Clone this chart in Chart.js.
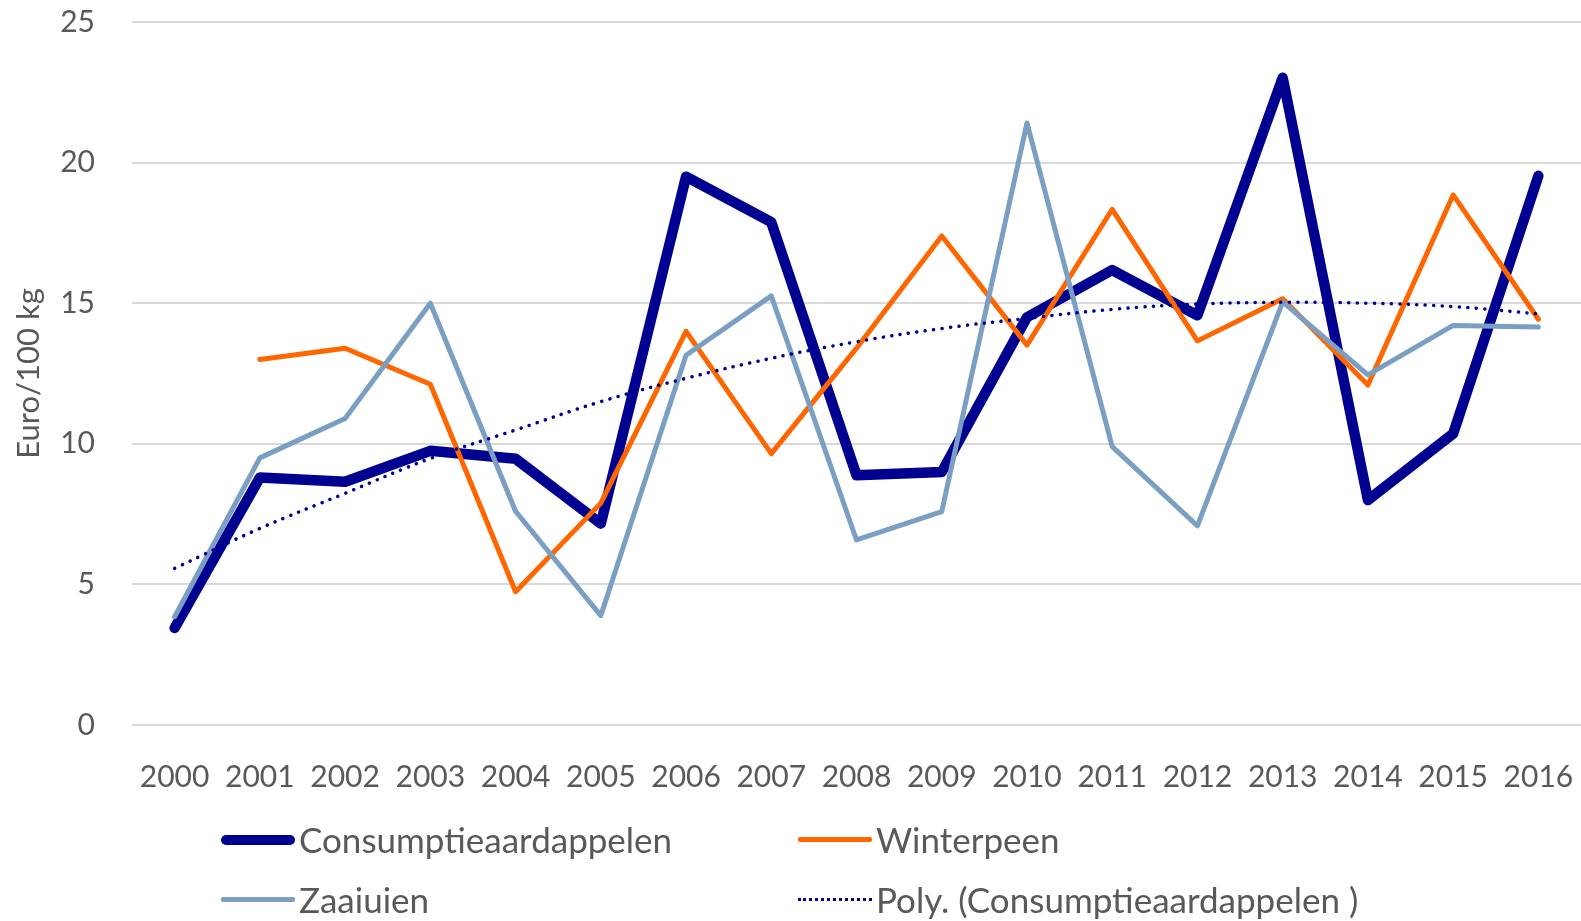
<!DOCTYPE html>
<html lang="nl">
<head>
    <meta charset="UTF-8" />
    <title>Prijzen akkerbouwproducten</title>
    <style>
        * {
            margin: 0;
            padding: 0;
            box-sizing: border-box;
        }
        body {
            background: #ffffff;
            width: 1581px;
            height: 921px;
            overflow: hidden;
            font-family: Lato, 'Open Sans', sans-serif;
            color: #595959;
        }
        .wrap {
            position: relative;
            width: 1581px;
            height: 921px;
        }
        /* legenda onder de grafiek, twee kolommen */
        .legend-item {
            position: absolute;
            display: flex;
            align-items: center;
            font-size: 35px;
            line-height: 1;
            white-space: nowrap;
        }
        .legend-item .swatch {
            width: 74px;
            margin-right: 4px;
        }
    </style>
</head>
<body>
<div class="wrap">
    <canvas id="chart" width="1581" height="921"></canvas>
    <div id="legend"></div>
</div>
<script src="https://cdn.jsdelivr.net/npm/chart.js"></script>
<script>
    const years = ['2000', '2001', '2002', '2003', '2004', '2005', '2006', '2007', '2008',
                   '2009', '2010', '2011', '2012', '2013', '2014', '2015', '2016'];

    const consumptie = [3.45, 8.8, 8.65, 9.75, 9.47, 7.16, 19.5, 17.88, 8.88, 9.0,
                        14.5, 16.18, 14.57, 23.02, 8.0, 10.36, 19.53];
    const winterpeen = [null, 13.0, 13.4, 12.12, 4.74, 7.89, 14.0, 9.65, 13.4, 17.39,
                        13.51, 18.34, 13.66, 15.16, 12.09, 18.85, 14.43];
    const zaaiuien = [3.85, 9.5, 10.9, 15.0, 7.6, 3.89, 13.15, 15.26, 6.58, 7.59,
                      21.41, 9.9, 7.08, 15.05, 12.45, 14.21, 14.15];
    // trendlijn zoals
    const polyTrend = [5.57, 6.99, 8.24, 9.48, 10.49, 11.5, 12.33, 13.04, 13.63, 14.1,
                       14.46, 14.78, 14.97, 15.03, 15.0, 14.88, 14.62];

    const yTicks = [0, 5, 10, 15, 20, 25];

    const seriesNames = ['Consumptieaardappelen', 'Winterpeen', 'Zaaiuien',
                         'Poly. (Consumptieaardappelen )'];

    const navy = '#000090';
    const orange = '#FF6600';
    const steel = '#7A9FC2';
    const textColor = '#595959';
    const fontFamily = "Lato, 'Open Sans', sans-serif";

    const ctx = document.getElementById('chart').getContext('2d');

    const lineStyle = {
        pointRadius: 0,
        tension: 0,
        borderCapStyle: 'round',
        borderJoinStyle: 'round'
    };

    const chart = new Chart(ctx, {
        type: 'line',
        data: {
            labels: years,
            datasets: [
                Object.assign({
                    label: seriesNames[0],
                    data: consumptie,
                    borderColor: navy,
                    backgroundColor: navy,
                    borderWidth: 10.5,
                    order: 3
                }, lineStyle),
                Object.assign({
                    label: seriesNames[1],
                    data: winterpeen,
                    borderColor: orange,
                    backgroundColor: orange,
                    borderWidth: 5,
                    order: 2
                }, lineStyle),
                Object.assign({
                    label: seriesNames[2],
                    data: zaaiuien,
                    borderColor: steel,
                    backgroundColor: steel,
                    borderWidth: 5,
                    order: 1
                }, lineStyle),
                Object.assign({
                    label: seriesNames[3],
                    data: polyTrend,
                    borderColor: navy,
                    backgroundColor: navy,
                    borderWidth: 3.5,
                    borderDash: [0.1, 8.4],
                    order: 0
                }, lineStyle, { tension: 0.4 })
            ]
        },
        options: {
            responsive: false,
            animation: false,
            events: [],
            layout: {
                padding: { top: 22, right: 0, bottom: 116, left: 0 }
            },
            plugins: {
                legend: { display: false },
                tooltip: { enabled: false }
            },
            scales: {
                x: {
                    offset: true,
                    grid: { display: false },
                    border: { display: false },
                    ticks: {
                        color: textColor,
                        font: { family: fontFamily, size: 30 },
                        padding: 26,
                        maxRotation: 0,
                        autoSkip: false
                    },
                    afterFit: (scale) => {
                        scale.height = 80;
                        scale.paddingLeft = 0;
                        scale.paddingRight = 0;
                    }
                },
                y: {
                    min: yTicks[0],
                    max: yTicks[yTicks.length - 1],
                    afterBuildTicks: (scale) => {
                        scale.ticks = yTicks.map(v => ({ value: v }));
                    },
                    grid: {
                        color: '#d9d9d9',
                        lineWidth: 2,
                        drawTicks: false
                    },
                    border: { display: false },
                    ticks: {
                        color: textColor,
                        font: { family: fontFamily, size: 30 },
                        padding: 37
                    },
                    title: {
                        display: true,
                        text: 'Euro/100 kg',
                        color: textColor,
                        font: { family: fontFamily, size: 31 },
                        padding: { top: 10, bottom: 0 }
                    },
                    afterFit: (scale) => {
                        scale.width = 132;
                        scale.paddingTop = 0;
                        scale.paddingBottom = 0;
                    }
                }
            }
        }
    });

    // legenda in HTML, twee kolommen zoals in het origineel
    const legendEl = document.getElementById('legend');
    const legendPos = [
        { left: 221, top: 839 },
        { left: 798, top: 839 },
        { left: 221, top: 899 },
        { left: 798, top: 899 }
    ];
    const swatchStyles = [
        'height:10px;background:' + navy + ';border-radius:5px;',
        'height:5px;background:' + orange + ';border-radius:2px;',
        'height:5px;background:' + steel + ';border-radius:2px;',
        'height:0;border-top:3px dotted ' + navy + ';'
    ];
    seriesNames.forEach((name, i) => {
        const item = document.createElement('div');
        item.className = 'legend-item';
        item.style.left = legendPos[i].left + 'px';
        item.style.top = (legendPos[i].top - 17) + 'px';
        const sw = document.createElement('span');
        sw.className = 'swatch';
        sw.style.cssText = swatchStyles[i];
        const txt = document.createElement('span');
        txt.textContent = name;
        item.appendChild(sw);
        item.appendChild(txt);
        legendEl.appendChild(item);
    });
</script>
</body>
</html>
